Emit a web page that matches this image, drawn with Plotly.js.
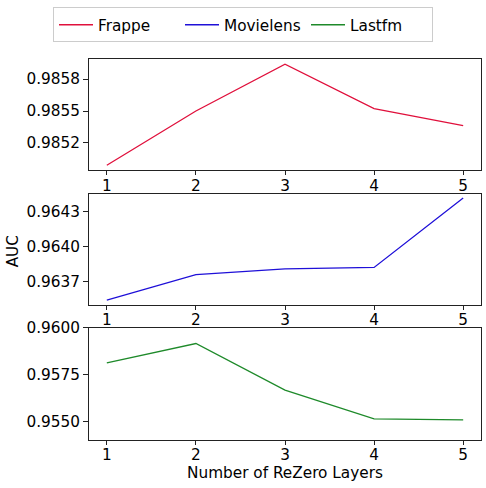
<!DOCTYPE html>
<html>
<head>
<meta charset="utf-8">
<script src="https://cdn.plot.ly/plotly-3.0.1.min.js"></script>
<style>
  html, body { margin: 0; padding: 0; background: #fff; }
  #chart { width: 486px; height: 488px; }
</style>
</head>
<body>
<div id="chart"></div>
<script>
const layers = [1, 2, 3, 4, 5];
const frappe = [0.985075, 0.98550, 0.985867, 0.985518, 0.985385];
const movielens = [0.963617, 0.963798, 0.963839, 0.963850, 0.964346];
const lastfm = [0.958136, 0.959168, 0.956668, 0.955130, 0.955076];

const frappeTicks = [0.98525, 0.9855, 0.98575];
const frappeTickText = ['0.9852', '0.9855', '0.9858'];
const movielensTicks = [0.96375, 0.964, 0.96425];
const movielensTickText = ['0.9637', '0.9640', '0.9643'];

const font = {family: 'DejaVu Sans, sans-serif', size: 15.3, color: '#000'};

const lineTrace = (y, name, color, axis) => ({
    x: layers,
    y,
    name,
    type: 'scatter',
    mode: 'lines',
    line: {color, width: 1.3},
    xaxis: 'x' + axis,
    yaxis: 'y' + axis
});

const xAxis = (anchor) => ({
    anchor,
    range: [0.8, 5.2],
    tickvals: layers,
    showline: true,
    mirror: true,
    linecolor: '#222',
    linewidth: 1,
    ticks: 'outside',
    ticklen: 4,
    tickcolor: '#222',
    ticklabelstandoff: -3,
    showgrid: false,
    zeroline: false,
    tickfont: font
});

const yAxis = (anchor, domain, range, extra = {}) => Object.assign({
    anchor,
    domain,
    range,
    showline: true,
    mirror: true,
    linecolor: '#222',
    linewidth: 1,
    ticks: 'outside',
    ticklen: 5,
    tickcolor: '#222',
    showgrid: false,
    zeroline: false,
    tickfont: font
}, extra);

const traces = [
    lineTrace(frappe, 'Frappe', '#e0103c', ''),
    lineTrace(movielens, 'Movielens', '#1f10d8', '2'),
    lineTrace(lastfm, 'Lastfm', '#1e8a2a', '3')
];

const layout = {
    width: 486,
    height: 488,
    margin: {l: 89, r: 5, t: 59, b: 48},
    paper_bgcolor: '#fff',
    plot_bgcolor: '#fff',
    font,
    showlegend: true,
    legend: {
        orientation: 'h',
        xref: 'container',
        yref: 'container',
        x: 0.5,
        xanchor: 'center',
        y: 0.985,
        yanchor: 'top',
        bordercolor: '#ccc',
        borderwidth: 1,
        bgcolor: '#fff',
        font,
        itemwidth: 34,
        entrywidthmode: 'pixels',
        entrywidth: 77
    },
    xaxis: xAxis('y'),
    yaxis: yAxis('x', [0.7076, 1], [0.985035, 0.985907], {
        tickvals: frappeTicks, ticktext: frappeTickText
    }),
    xaxis2: xAxis('y2'),
    yaxis2: yAxis('x2', [0.3551, 0.6457], [0.963584, 0.964374], {
        tickvals: movielensTicks, ticktext: movielensTickText
    }),
    xaxis3: xAxis('y3'),
    yaxis3: yAxis('x3', [0, 0.294], [0.954, 0.960], {
        tick0: 0.955, dtick: 0.0025, tickformat: '.4f'
    }),
    annotations: [
        {
            text: 'AUC', xref: 'paper', yref: 'paper', x: -0.195, y: 0.494,
            xanchor: 'center', yanchor: 'middle', textangle: -90, showarrow: false, font
        },
        {
            text: 'Number of ReZero Layers', xref: 'paper', yref: 'paper', x: 0.5, y: -0.086,
            xanchor: 'center', yanchor: 'middle', showarrow: false, font
        }
    ]
};

Plotly.newPlot('chart', traces, layout, {displayModeBar: false, staticPlot: true});
</script>
</body>
</html>
